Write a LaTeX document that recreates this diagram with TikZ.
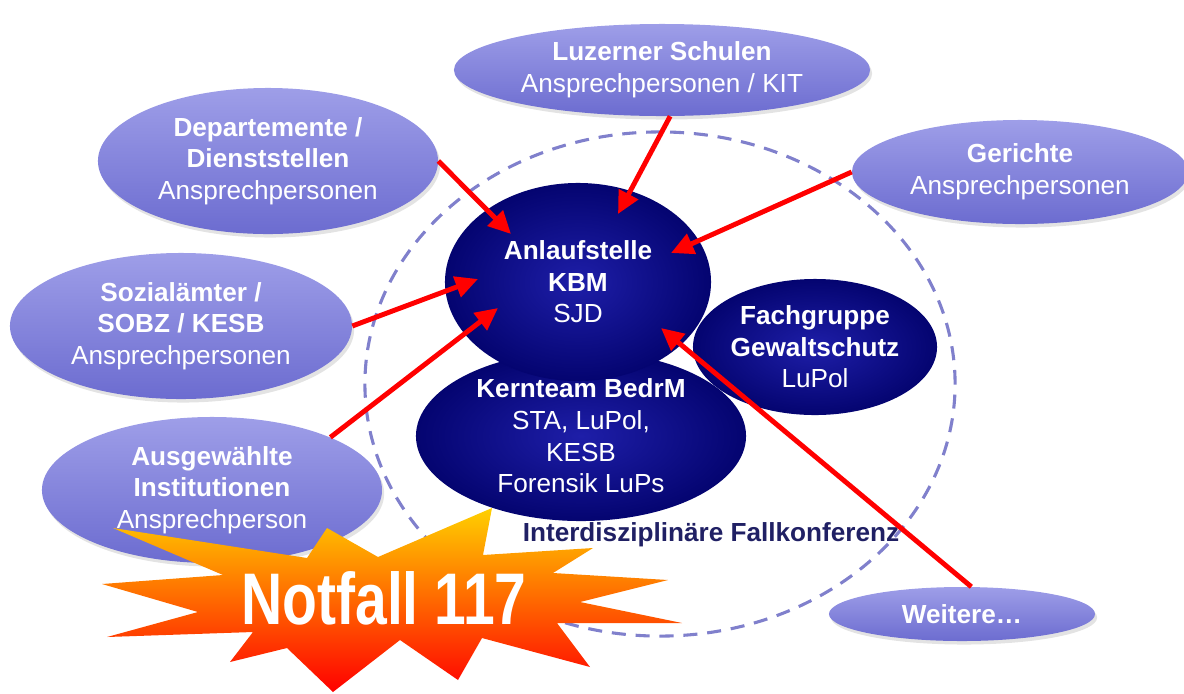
\documentclass[tikz,border=0pt]{standalone}
\usepackage{fontspec}
\setmainfont{Liberation Sans}
\usetikzlibrary{shapes.geometric,arrows.meta,shadows}
\definecolor{lavtop}{RGB}{158,158,232}
\definecolor{lavbot}{RGB}{108,108,208}
\definecolor{navyin}{RGB}{30,30,168}
\definecolor{navyout}{RGB}{4,4,112}
\definecolor{ringblue}{RGB}{128,128,204}
\definecolor{labelnavy}{RGB}{32,32,100}
\definecolor{staryel}{RGB}{255,208,0}
\definecolor{starora}{RGB}{255,140,0}
\definecolor{starred}{RGB}{255,0,0}
\begin{document}
\begin{tikzpicture}[x=0.025cm,y=-0.025cm,>={Triangle[length=16pt,width=15pt]},
  radii/.style 2 args={minimum width=#1*0.05cm,minimum height=#2*0.05cm},
  txt/.style={font=\fontsize{18.6}{22.5}\selectfont,align=center,inner sep=0pt},
  lightell/.style={ellipse,txt,text=white,top color=lavtop,bottom color=lavbot,
    drop shadow={opacity=0.22,shadow xshift=1.5pt,shadow yshift=-2.5pt}},
  darkell/.style={ellipse,txt,text=white,inner color=navyin,outer color=navyout},
  ring/.style={ellipse,draw=ringblue,line width=2.2pt,dash pattern=on 10pt off 7pt},
  redarrow/.style={->,red,line width=3.5pt}]
\useasboundingbox (0,0) rectangle (1184,693);
\node[ring,radii={295}{252}] (ifk) at (660,384) {};
\node[lightell,radii={208}{46}] (luz) at (662,70) {\textbf{Luzerner Schulen}\\Ansprechpersonen / KIT};
\node[lightell,radii={170}{73}] (dep) at (268,161) {\textbf{Departemente /}\\\textbf{Dienststellen}\\Ansprechpersonen};
\node[lightell,radii={168}{52}] (ger) at (1020,172) {\textbf{Gerichte}\\Ansprechpersonen};
\node[lightell,radii={171}{73}] (soz) at (181,326) {\textbf{Sozialämter /}\\\textbf{SOBZ / KESB}\\Ansprechpersonen};
\node[lightell,radii={170}{73}] (aus) at (212,490) {\textbf{Ausgewählte}\\\textbf{Institutionen}\\Ansprechperson};
\node[lightell,radii={133}{27}] (wei) at (962,614) {\textbf{Weitere…}};
\node[darkell,radii={165}{85}] (kern) at (581,436) {\textbf{Kernteam BedrM}\\STA, LuPol,\\KESB\\Forensik LuPs};
\node[darkell,radii={122}{68}] (fach) at (815,347) {\textbf{Fachgruppe}\\\textbf{Gewaltschutz}\\LuPol};
\node[darkell,radii={133}{99}] (anl) at (578,282) {\textbf{Anlaufstelle}\\\textbf{KBM}\\SJD};
\node[txt,text=labelnavy] (ifklabel) at (711,535) {\textbf{Interdisziplinäre Fallkonferenz}};
\coordinate (tluz) at (618,214);
\coordinate (tdep) at (511,234);
\coordinate (tger) at (671,253);
\coordinate (tsoz) at (478,279);
\coordinate (taus) at (498,308);
\coordinate (twei) at (661,328);
\draw[redarrow] (luz.-80)--(tluz);
\draw[redarrow] (dep.east)--(tdep);
\draw[redarrow] (ger.west)--(tger);
\draw[redarrow] (soz.east)--(tsoz);
\draw[redarrow] (aus.24)--(taus);
\draw[redarrow] (wei.71)--(twei);
\shade[top color=staryel,middle color=starora,bottom color=starred]
  (113,528)--(307,558)--(327,528)--(378,557)--(492,508)--(483,555)--(593,548)--(553,573)
  --(668,580)--(580,602)--(682,623)--(557,623)--(590,667)--(482,638)--(458,680)--(400,640)
  --(333,692)--(287,648)--(230,662)--(253,632)--(107,637)--(198,612)--(102,584)--(223,575)--cycle;
\node[inner sep=0pt,text=white,font=\fontsize{52}{60}\selectfont\bfseries] (notfall) at (384,598) {\scalebox{0.78}[1]{Notfall 117}};
\end{tikzpicture}
\end{document}
